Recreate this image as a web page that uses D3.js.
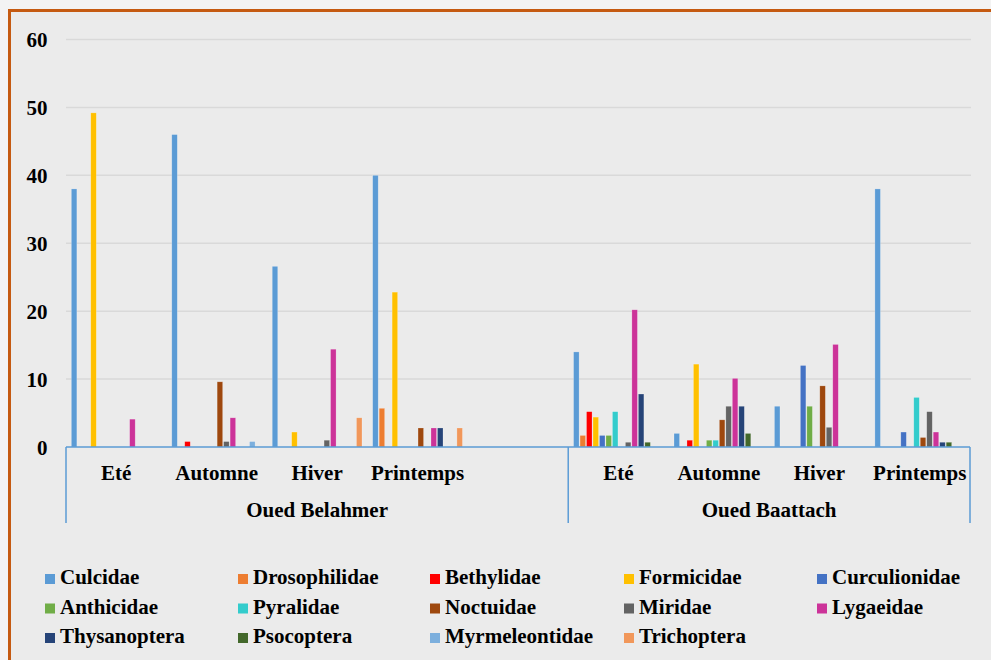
<!DOCTYPE html>
<html>
<head>
<meta charset="utf-8">
<script src="https://cdn.jsdelivr.net/npm/d3@7"></script>
<style>
  html, body { margin: 0; padding: 0; background: #f3f3f3; }
  svg { display: block; }
  text { font-weight: bold; fill: #000; }
</style>
</head>
<body>
<svg id="chart" width="991" height="660"></svg>
<script>
// ---- data ----
const catLabels = ["Eté", "Automne", "Hiver", "Printemps", "", "Eté", "Automne", "Hiver", "Printemps"];
const catGroups = ["Oued Belahmer", "Oued Belahmer", "Oued Belahmer", "Oued Belahmer", "Oued Belahmer",
                   "Oued Baattach", "Oued Baattach", "Oued Baattach", "Oued Baattach"];
const groupNames = ["Oued Belahmer", "Oued Baattach"];
const seriesNames = ["Culcidae", "Drosophilidae", "Bethylidae", "Formicidae", "Curculionidae",
                     "Anthicidae", "Pyralidae", "Noctuidae", "Miridae", "Lygaeidae",
                     "Thysanoptera", "Psocoptera", "Myrmeleontidae", "Trichoptera"];
const Culcidae       = [38, 46, 26.6, 40, 0, 14, 2, 6, 38];
const Drosophilidae  = [0, 0, 0, 5.7, 0, 1.7, 0, 0, 0];
const Bethylidae     = [0, 0.8, 0, 0, 0, 5.2, 1, 0, 0];
const Formicidae     = [49.2, 0, 2.2, 22.8, 0, 4.4, 12.2, 0, 0];
const Curculionidae  = [0, 0, 0, 0, 0, 1.7, 0, 12, 2.2];
const Anthicidae     = [0, 0, 0, 0, 0, 1.7, 1, 6, 0];
const Pyralidae      = [0, 0, 0, 0, 0, 5.2, 1, 0, 7.3];
const Noctuidae      = [0, 9.6, 0, 2.8, 0, 0, 4, 9, 1.4];
const Miridae        = [0, 0.8, 1, 0, 0, 0.7, 6, 2.9, 5.2];
const Lygaeidae      = [4.1, 4.3, 14.4, 2.8, 0, 20.2, 10.1, 15.1, 2.2];
const Thysanoptera   = [0, 0, 0, 2.8, 0, 7.8, 6, 0, 0.7];
const Psocoptera     = [0, 0, 0, 0, 0, 0.7, 2, 0, 0.7];
const Myrmeleontidae = [0, 0.8, 0, 0, 0, 0, 0, 0, 0];
const Trichoptera    = [0, 0, 4.3, 2.8, 0, 0, 0, 0, 0];
const seriesValues = [Culcidae, Drosophilidae, Bethylidae, Formicidae, Curculionidae, Anthicidae,
                      Pyralidae, Noctuidae, Miridae, Lygaeidae, Thysanoptera, Psocoptera,
                      Myrmeleontidae, Trichoptera];
const yTicks = [0, 10, 20, 30, 40, 50, 60];

const colors = ["#5b9bd5", "#ed7d31", "#ff0000", "#ffc000", "#4472c4", "#70ad47", "#33cccc",
                "#9e480e", "#636363", "#cc3399", "#264478", "#43682b", "#7cafdd", "#f1975a"];

const FONT = "Liberation Serif, DejaVu Serif, Times New Roman, serif";
const FS = 21;

// ---- layout ----
const svg = d3.select("#chart");
const plotLeft = 66, plotRight = 970, plotTop = 39.5, plotBottom = 447;

// frame
svg.append("rect").attr("x", 9.5).attr("y", 10.5).attr("width", 1000).attr("height", 700)
  .attr("fill", "#ebebeb").attr("stroke", "#c55a11").attr("stroke-width", 3);

const idx = d3.range(catLabels.length);
const x0 = d3.scaleBand().domain(idx).range([plotLeft, plotRight]).padding(0);
const gapHalf = x0.bandwidth() * 0.75 / 15.5;
const x1 = d3.scaleBand().domain(seriesNames)
  .range([gapHalf, x0.bandwidth() - gapHalf]).paddingInner(0.15).paddingOuter(0.075);
const y = d3.scaleLinear().domain([0, 60]).range([plotBottom, plotTop]);

// gridlines
svg.append("g").selectAll("line").data(yTicks.filter(d => d > 0)).join("line")
  .attr("x1", plotLeft).attr("x2", plotRight + 1)
  .attr("y1", d => y(d)).attr("y2", d => y(d))
  .attr("stroke", "#d9d9d9").attr("stroke-width", 1.5);

// y axis labels
const yAxis = d3.axisLeft(y).tickValues(yTicks).tickSize(0).tickPadding(0);
const yg = svg.append("g").attr("transform", `translate(47.5,0)`).call(yAxis);
yg.attr("font-family", null).attr("font-size", null);
yg.select(".domain").remove();
yg.selectAll("text").attr("font-size", FS).attr("dy", "0.34em")
  .attr("font-family", FONT).attr("font-weight", "bold").attr("fill", "#000");

// bars
const barData = [];
seriesNames.forEach((s, si) => {
  seriesValues[si].forEach((v, ci) => {
    if (v > 0) barData.push({ s, si, ci, v });
  });
});
svg.append("g").selectAll("rect").data(barData).join("rect")
  .attr("x", d => x0(d.ci) + x1(d.s))
  .attr("width", x1.bandwidth())
  .attr("y", d => y(d.v))
  .attr("height", d => y(0) - y(d.v))
  .attr("fill", d => colors[d.si])
  .attr("stroke", "rgba(255,255,255,0.35)").attr("stroke-width", 0.6);

// category axis
const axisColor = "#5b9bd5";
svg.append("line").attr("x1", plotLeft).attr("x2", plotRight).attr("y1", plotBottom).attr("y2", plotBottom)
  .attr("stroke", axisColor).attr("stroke-width", 1.5);
const groupBounds = groupNames.map(g => {
  const ids = idx.filter(i => catGroups[i] === g);
  return { g, x0: x0(ids[0]), x1: x0(ids[ids.length - 1]) + x0.bandwidth() };
});
const sepX = [plotLeft, groupBounds[0].x1, plotRight];
svg.append("g").selectAll("line").data(sepX).join("line")
  .attr("x1", d => d).attr("x2", d => d).attr("y1", plotBottom).attr("y2", 523)
  .attr("stroke", axisColor).attr("stroke-width", 1.5);

svg.append("g").attr("font-family", FONT).selectAll("text").data(idx.filter(i => catLabels[i] !== "")).join("text")
  .attr("x", i => x0(i) + x0.bandwidth() / 2).attr("y", 480)
  .attr("text-anchor", "middle").attr("font-size", FS).text(i => catLabels[i]);

svg.append("g").attr("font-family", FONT).selectAll("text").data(groupBounds).join("text")
  .attr("x", d => (d.x0 + d.x1) / 2).attr("y", 517)
  .attr("text-anchor", "middle").attr("font-size", FS).text(d => d.g);

// legend
const legX = [45, 238, 430, 624, 817];
const legY = [584, 613.5, 643];
const leg = svg.append("g").attr("font-family", FONT).selectAll("g").data(seriesNames).join("g")
  .attr("transform", (d, i) => `translate(${legX[i % 5]},${legY[Math.floor(i / 5)]})`);
leg.append("rect").attr("x", 0).attr("y", -10).attr("width", 10).attr("height", 10)
  .attr("fill", (d, i) => colors[i]);
leg.append("text").attr("x", 15).attr("y", 0).attr("font-size", FS).text(d => d);
</script>
</body>
</html>
